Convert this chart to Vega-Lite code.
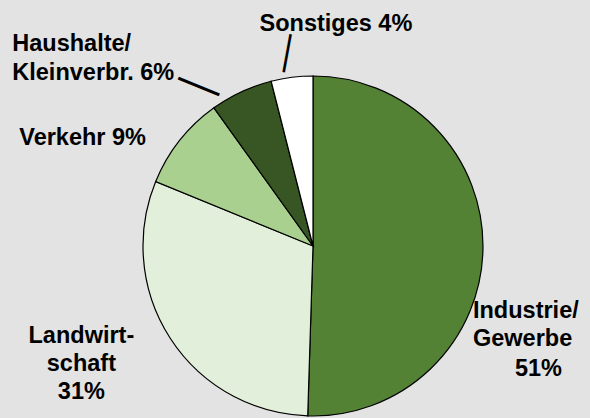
{
  "$schema": "https://vega.github.io/schema/vega-lite/v6.json",
  "width": 340,
  "height": 340,
  "autosize": {"type": "none"},
  "padding": {"left": 143, "top": 76, "right": 107, "bottom": 2},
  "background": "#E3E3E3",
  "view": {"stroke": null},
  "data": {
    "values": [
      {"category": "Industrie/Gewerbe", "share": 51, "order": 1, "label": "Industrie/\nGewerbe", "pct": "51%"},
      {"category": "Landwirtschaft", "share": 31, "order": 2, "label": "Landwirt-\nschaft\n31%", "pct": "31%"},
      {"category": "Verkehr", "share": 9, "order": 3, "label": "Verkehr 9%", "pct": "9%"},
      {"category": "Haushalte/Kleinverbr.", "share": 6, "order": 4, "label": "Haushalte/\nKleinverbr. 6%", "pct": "6%"},
      {"category": "Sonstiges", "share": 4, "order": 5, "label": "Sonstiges 4%", "pct": "4%"}
    ]
  },
  "encoding": {
    "theta": {"field": "share", "type": "quantitative", "stack": true},
    "order": {"field": "order", "type": "quantitative"},
    "detail": {"field": "category", "type": "nominal"}
  },
  "layer": [
    {
      "mark": {"type": "arc", "outerRadius": 170, "stroke": "#000000", "strokeWidth": 1.2},
      "encoding": {
        "color": {
          "field": "category",
          "type": "nominal",
          "scale": {
            "domain": ["Industrie/Gewerbe", "Landwirtschaft", "Verkehr", "Haushalte/Kleinverbr.", "Sonstiges"],
            "range": ["#548235", "#E2EFDA", "#A9D08E", "#375623", "#FFFFFF"]
          },
          "legend": null
        }
      }
    },
    {
      "mark": {"type": "text", "radius": 170, "align": "left", "baseline": "top", "dx": -10, "dy": 50, "font": "Liberation Sans", "fontWeight": "bold", "fontSize": 23.5, "lineHeight": 28.5, "lineBreak": "\n", "color": "#000000"},
      "encoding": {"text": {"condition": {"test": "datum.category === 'Industrie/Gewerbe'", "field": "label", "type": "nominal"}, "value": ""}}
    },
    {
      "mark": {"type": "text", "radius": 170, "align": "left", "baseline": "top", "dx": 32, "dy": 108, "font": "Liberation Sans", "fontWeight": "bold", "fontSize": 23.5, "color": "#000000"},
      "encoding": {"text": {"condition": {"test": "datum.category === 'Industrie/Gewerbe'", "field": "pct", "type": "nominal"}, "value": ""}}
    },
    {
      "mark": {"type": "text", "radius": 170, "align": "center", "baseline": "top", "dx": -89, "dy": -15, "font": "Liberation Sans", "fontWeight": "bold", "fontSize": 23.5, "lineHeight": 28, "lineBreak": "\n", "color": "#000000"},
      "encoding": {"text": {"condition": {"test": "datum.category === 'Landwirtschaft'", "field": "label", "type": "nominal"}, "value": ""}}
    },
    {
      "mark": {"type": "text", "radius": 170, "align": "center", "baseline": "top", "dx": -97, "dy": -15, "font": "Liberation Sans", "fontWeight": "bold", "fontSize": 23.5, "lineHeight": 28.5, "lineBreak": "\n", "color": "#000000"},
      "encoding": {"text": {"condition": {"test": "datum.category === 'Verkehr'", "field": "label", "type": "nominal"}, "value": ""}}
    },
    {
      "mark": {"type": "text", "radius": 170, "align": "left", "baseline": "top", "dx": -229, "dy": -60, "font": "Liberation Sans", "fontWeight": "bold", "fontSize": 23.5, "lineHeight": 29, "lineBreak": "\n", "color": "#000000"},
      "encoding": {"text": {"condition": {"test": "datum.category === 'Haushalte/Kleinverbr.'", "field": "label", "type": "nominal"}, "value": ""}}
    },
    {
      "mark": {"type": "text", "radius": 170, "align": "center", "baseline": "top", "dx": 44, "dy": -65, "font": "Liberation Sans", "fontWeight": "bold", "fontSize": 23.5, "lineHeight": 28.5, "lineBreak": "\n", "color": "#000000"},
      "encoding": {"text": {"condition": {"test": "datum.category === 'Sonstiges'", "field": "label", "type": "nominal"}, "value": ""}}
    },
    {
      "mark": {"type": "text", "radius": 194, "angle": 280.4, "align": "center", "baseline": "middle", "dy": -4, "font": "Liberation Sans", "fontSize": 38.6, "color": "#000000"},
      "encoding": {"text": {"condition": {"test": "datum.category === 'Sonstiges'", "value": "—"}, "value": ""}}
    },
    {
      "mark": {"type": "text", "radius": 153.5, "angle": 22.2, "align": "center", "baseline": "middle", "dx": -53.5, "dy": -2, "font": "Liberation Sans", "fontSize": 44.3, "color": "#000000"},
      "encoding": {"text": {"condition": {"test": "datum.category === 'Haushalte/Kleinverbr.'", "value": "—"}, "value": ""}}
    }
  ]
}
